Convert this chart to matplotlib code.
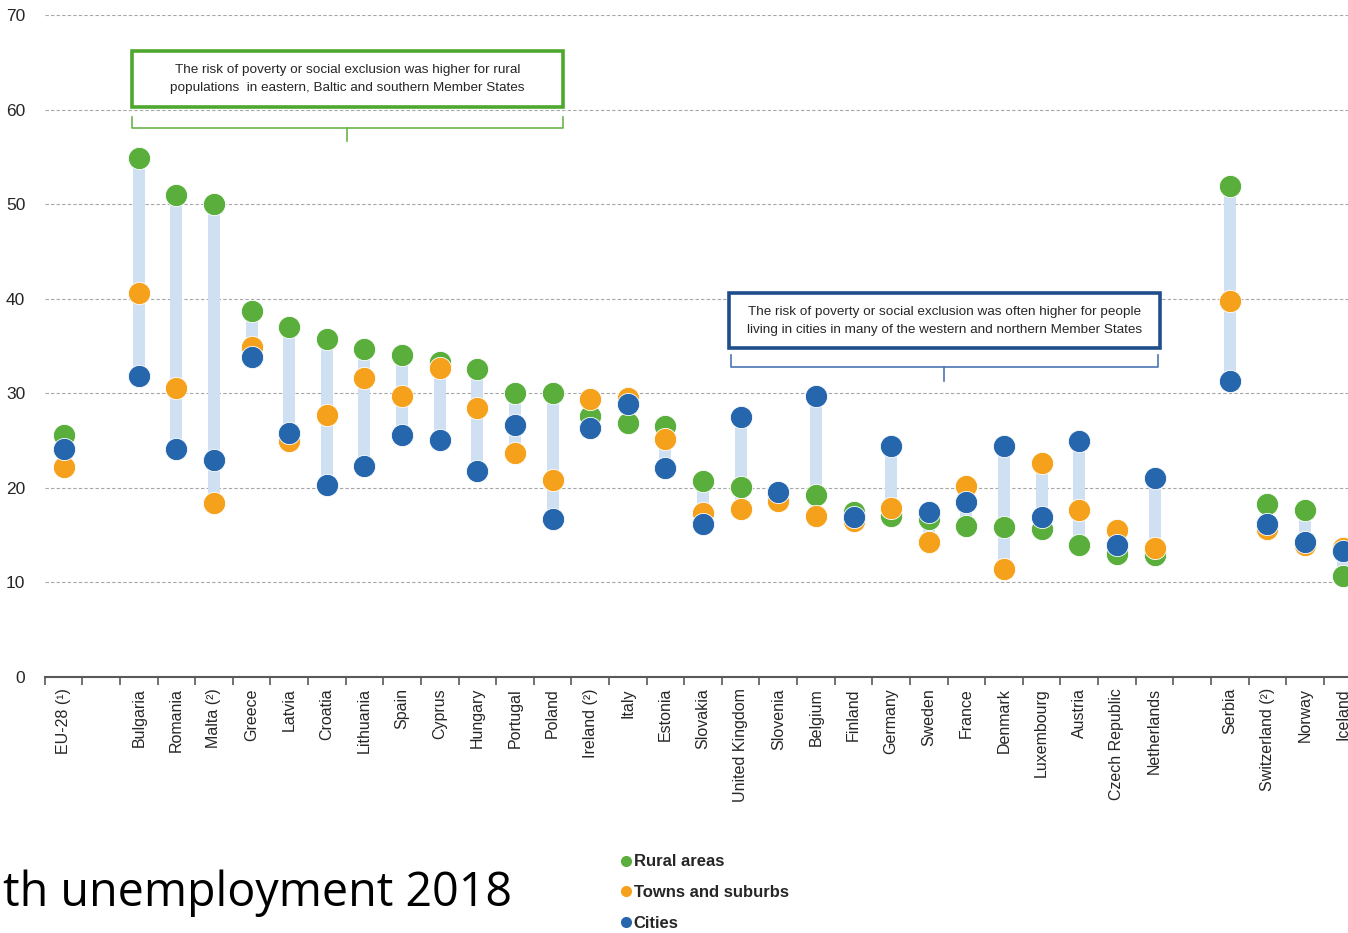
import matplotlib
matplotlib.use("Agg")
import matplotlib.pyplot as plt
from matplotlib.lines import Line2D
import numpy as np

# categories ('' = empty gap slot)
countries = ["EU-28 (¹)", "", "Bulgaria", "Romania", "Malta (²)", "Greece", "Latvia",
             "Croatia", "Lithuania", "Spain", "Cyprus", "Hungary", "Portugal", "Poland",
             "Ireland (²)", "Italy", "Estonia", "Slovakia", "United Kingdom", "Slovenia",
             "Belgium", "Finland", "Germany", "Sweden", "France", "Denmark", "Luxembourg",
             "Austria", "Czech Republic", "Netherlands", "", "Serbia", "Switzerland (²)",
             "Norway", "Iceland"]

nan = np.nan
rural = [25.6, nan, 54.9, 51.0, 50.0, 38.7, 37.0, 35.7, 34.7, 34.0, 33.3, 32.6, 30.0, 30.0,
         27.6, 26.9, 26.5, 20.7, 20.1, 19.3, 19.2, 17.4, 17.0, 16.7, 16.0, 15.9, 15.6,
         14.0, 13.0, 12.9, nan, 51.9, 18.3, 17.7, 10.7]
towns = [22.2, nan, 40.6, 30.6, 18.4, 34.9, 25.0, 27.7, 31.6, 29.7, 32.7, 28.4, 23.7, 20.8,
         29.4, 29.5, 25.2, 17.3, 17.8, 18.6, 17.0, 16.5, 17.9, 14.3, 20.2, 11.4, 22.6,
         17.7, 15.5, 13.6, nan, 39.8, 15.6, 14.0, 13.6]
cities = [24.1, nan, 31.8, 24.1, 22.9, 33.8, 25.8, 20.3, 22.3, 25.6, 25.1, 21.8, 26.6, 16.7,
          26.3, 28.9, 22.1, 16.2, 27.5, 19.6, 29.7, 16.9, 24.4, 17.4, 18.5, 24.4, 16.9,
          25.0, 14.0, 21.0, nan, 31.3, 16.2, 14.3, 13.3]

GREEN = "#5aae3c"
ORANGE = "#f5a11c"
BLUE = "#2566ad"
RANGE = "#cfe0f2"

plt.rcParams["font.family"] = ["Liberation Sans", "DejaVu Sans"]

fig = plt.figure(figsize=(13.48, 9.33), dpi=100)
ax = fig.add_axes([0.03316, 0.2744, 0.9768, 0.7095])

x = np.arange(len(countries))
r = np.array(rural)
t = np.array(towns)
c = np.array(cities)
lo = np.fmin(np.fmin(r, t), c)
hi = np.fmax(np.fmax(r, t), c)

ax.vlines(x, lo, hi, color=RANGE, lw=8.6, zorder=2)
ms = 255
ax.scatter(x, r, s=ms, color=GREEN, edgecolors="white", linewidths=0.6, zorder=3)
ax.scatter(x, t, s=ms, color=ORANGE, edgecolors="white", linewidths=0.6, zorder=4)
ax.scatter(x, c, s=ms, color=BLUE, edgecolors="white", linewidths=0.6, zorder=5)

ax.set_xlim(-0.5, len(countries) - 0.5)
ax.set_ylim(0, 70)
ax.set_yticks(range(0, 71, 10))
ax.yaxis.grid(True, ls=(0, (3, 2)), color="#a6a6a6", lw=0.8)
ax.set_axisbelow(True)
for s in ["left", "right", "top"]:
    ax.spines[s].set_visible(False)
ax.spines["bottom"].set_color("#595959")
ax.spines["bottom"].set_linewidth(1.5)
ax.tick_params(axis="y", length=0, labelsize=12.5, labelcolor="#262626", pad=14)

ax.set_xticks(np.arange(len(countries) + 1) - 0.5)
ax.set_xticklabels([])
ax.set_xticks(x, minor=True)
ax.set_xticklabels(countries, minor=True, rotation=90, fontsize=11.5, color="#262626", va="top")
ax.tick_params(axis="x", which="major", length=6, width=1.2, color="#595959", direction="out")
ax.tick_params(axis="x", which="minor", length=0, pad=8)

# annotation boxes with brackets
ax.text(7.55, 63.25,
        "The risk of poverty or social exclusion was higher for rural\n"
        "populations  in eastern, Baltic and southern Member States",
        ha="center", va="center", fontsize=9.7, color="#262626",
        linespacing=1.7, zorder=6)
ax.add_patch(plt.Rectangle((1.82, 60.3), 13.28 - 1.82, 66.2 - 60.3, fill=False,
                           ec="#4ea72e", lw=2.6, clip_on=False, zorder=6))
ax.plot([1.82, 1.82, 13.28, 13.28], [59.2, 58.05, 58.05, 59.2], color="#6ab44c", lw=1.2,
        clip_on=False)
ax.plot([7.54, 7.54], [58.05, 56.7], color="#6ab44c", lw=1.2, clip_on=False)

ax.text(23.42, 37.65,
        "The risk of poverty or social exclusion was often higher for people\n"
        "living in cities in many of the western and northern Member States",
        ha="center", va="center", fontsize=9.7, color="#262626",
        linespacing=1.7, zorder=6)
ax.add_patch(plt.Rectangle((17.69, 34.8), 29.14 - 17.69, 40.6 - 34.8, fc="white",
                           ec="#1f4e8c", lw=2.6, clip_on=False, zorder=5.5))
ax.plot([17.74, 17.74, 29.09, 29.09], [34.05, 32.8, 32.8, 34.05], color="#4a76b0", lw=1.2,
        clip_on=False)
ax.plot([23.41, 23.41], [32.8, 31.3], color="#4a76b0", lw=1.2, clip_on=False)

# legend
handles = [Line2D([], [], ls="", marker="o", ms=7, color=col) for col in (GREEN, ORANGE, BLUE)]
fig.legend(handles, ["Rural areas", "Towns and suburbs", "Cities"],
           loc="upper left", bbox_to_anchor=(613 / 1348, 1 - 846 / 933), frameon=False,
           handlelength=0.5, handletextpad=0.25, labelspacing=0.95,
           prop=dict(size=12, weight="bold"), labelcolor="#262626", borderpad=0)

fig.text(3 / 1348, 1 - 893 / 933, "th unemployment 2018", fontsize=33.6,
         family=["Open Sans", "DejaVu Sans"], va="center", ha="left", color="black")

fig.savefig("out.png", dpi=100)
